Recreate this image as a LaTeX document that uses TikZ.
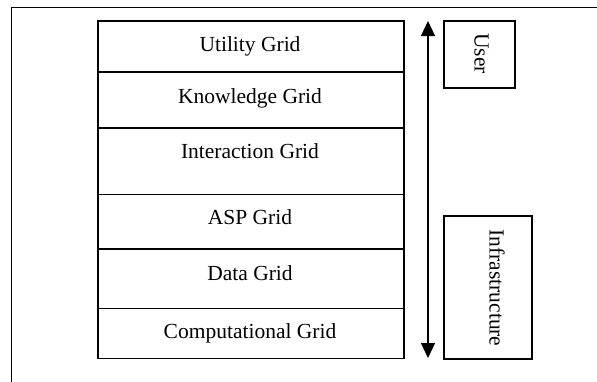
\documentclass[tikz,border=0pt]{standalone}
\usepackage{fontspec}
\setmainfont{Liberation Serif}
\usetikzlibrary{arrows.meta}
\begin{document}
\begin{tikzpicture}[x=1pt,y=-1pt,
  rowbox/.style={draw,line width=1.6pt,rectangle,minimum width=306pt,inner sep=0pt,anchor=north west},
  lbl/.style={inner sep=0pt,anchor=base,font=\fontsize{21.5}{24}\selectfont},
  sidebox/.style={draw,line width=1.5pt,rectangle,inner sep=0pt,anchor=north west},
  frame/.style={line width=1.5pt},
  bothway/.style={line width=1.1pt,{Triangle[width=14pt,length=15pt]}-{Triangle[width=14pt,length=15pt]}}]
\useasboundingbox (0,0) rectangle (597,381);
\fill[white] (0,0) rectangle (597,381);
% outer frame (only top and left edges visible)
\draw[frame] (598,7.5) -- (11.5,7.5) -- (11.5,382);
% stack of layers
\node[rowbox,minimum height=51.3pt] (utility) at (97,20) {};
\node[rowbox,minimum height=56pt] (knowledge) at (97,71.3) {};
\node[rowbox,minimum height=66.2pt] (interaction) at (97,127.3) {};
\node[rowbox,minimum height=54.8pt] (asp) at (97,193.5) {};
\node[rowbox,minimum height=59.4pt] (data) at (97,248.3) {};
\node[rowbox,minimum height=50pt] (comp) at (97,307.7) {};
\node[lbl] (tutility) at (250,51.8) {Utility Grid};
\node[lbl] (tknowledge) at (250,103.3) {Knowledge Grid};
\node[lbl] (tinteraction) at (250,158.5) {Interaction Grid};
\node[lbl] (tasp) at (250,224.5) {ASP Grid};
\node[lbl] (tdata) at (250,280.3) {Data Grid};
\node[lbl] (tcomp) at (250,338.8) {Computational Grid};
% arrow
\coordinate (arrtop) at (428,21);
\coordinate (arrbot) at (428,358);
\draw[bothway] (arrbot) -- (arrtop);
% side boxes
\node[sidebox,minimum width=71pt,minimum height=67pt] (user) at (443,20) {};
\node[lbl,rotate=-90] (tuser) at (474.5,53.5) {User};
\node[sidebox,minimum width=88pt,minimum height=143pt] (infra) at (443,215) {};
\node[lbl,rotate=-90] (tinfra) at (489.5,288) {Infrastructure};
\end{tikzpicture}
\end{document}
